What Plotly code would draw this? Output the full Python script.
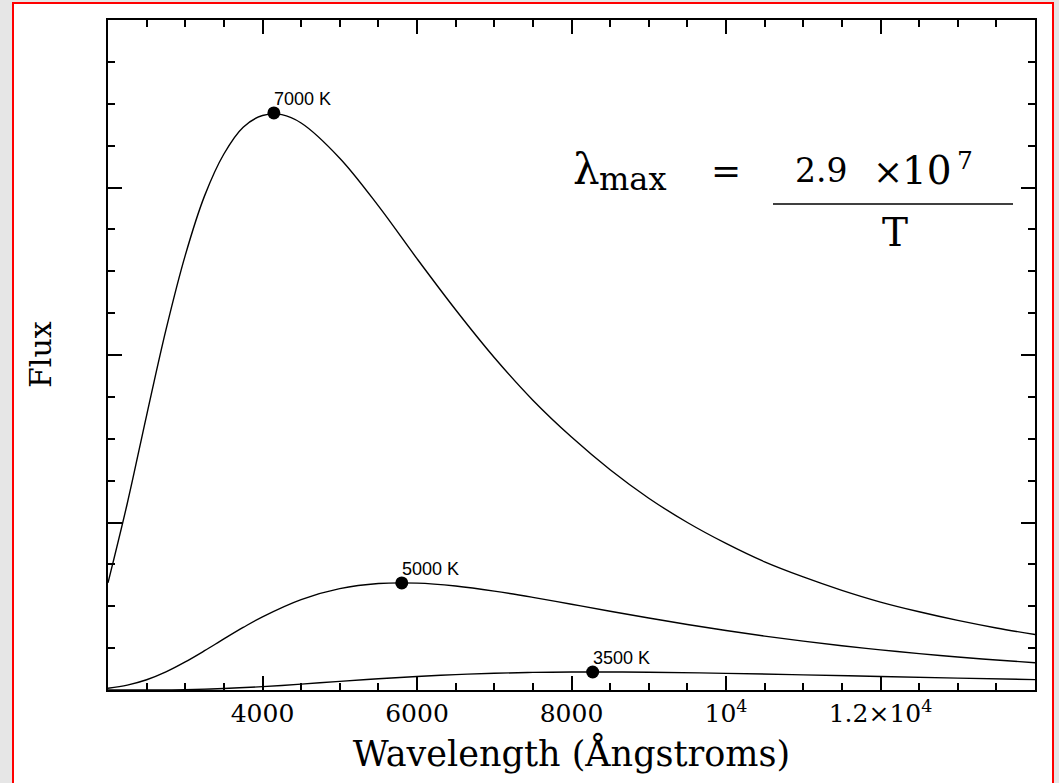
import plotly.graph_objects as go

# ---- data (flux in units of 1e14, arbitrary) ----
wl_7000 = [2000, 2250, 2500, 2750, 3000, 3250, 3500, 3750, 4000, 4250, 4500, 5000, 5500, 6000,
           6500, 7000, 7500, 8000, 8500, 9000, 9500, 10000, 10500, 11000, 11500, 12000, 12500,
           13000, 13500, 14000]
flux_7000 = [1.28, 2.23, 3.28, 4.30, 5.19, 5.90, 6.40, 6.72, 6.86, 6.87, 6.77, 6.35, 5.78, 5.15,
             4.54, 3.97, 3.46, 3.02, 2.63, 2.29, 2.00, 1.75, 1.53, 1.35, 1.19, 1.05, 0.934,
             0.831, 0.741, 0.663]

wl_5000 = [2000, 2250, 2500, 2750, 3000, 3250, 3500, 3750, 4000, 4500, 5000, 5500, 6000, 6500,
           7000, 7500, 8000, 8500, 9000, 9500, 10000, 10500, 11000, 11500, 12000, 12500, 13000,
           13500, 14000]
flux_5000 = [0.021, 0.058, 0.122, 0.216, 0.335, 0.469, 0.610, 0.747, 0.874, 1.080, 1.210, 1.271,
             1.276, 1.241, 1.181, 1.106, 1.024, 0.941, 0.860, 0.782, 0.710, 0.644, 0.583, 0.528,
             0.479, 0.434, 0.394, 0.358, 0.325]

wl_3500 = [2000, 2500, 3000, 3500, 4000, 4500, 5000, 5500, 6000, 6500, 7000, 7500, 8000, 8500,
           9000, 10000, 11000, 12000, 13000, 14000]
flux_3500 = [0.0, 0.001, 0.005, 0.018, 0.040, 0.070, 0.103, 0.134, 0.162, 0.184, 0.200, 0.210,
             0.2145, 0.2147, 0.212, 0.199, 0.181, 0.161, 0.142, 0.124]

peak_wl = [4147, 5803, 8274]
peak_flux = [6.89, 1.278, 0.215]
peak_labels = ["7000 K", "5000 K", "3500 K"]

x_tickvals = [4000, 6000, 8000, 10000, 12000]
x_ticktext = ["4000", "6000", "8000", "10<sup>4</sup>", "1.2×10<sup>4</sup>"]

# ---- layout geometry (pixels) ----
W, H = 1059, 783
L, R, T, B = 108, 24, 20, 93
PW, PH = W - L - R, H - T - B


def px(x):
    return (x - L) / PW


def py(y):
    return (T + PH - y) / PH


SERIF = "DejaVu Serif"
SANS = "Liberation Sans"

fig = go.Figure()
for wl, fl in [(wl_7000, flux_7000), (wl_5000, flux_5000), (wl_3500, flux_3500)]:
    fig.add_trace(go.Scatter(x=wl, y=fl, mode="lines",
                             line=dict(color="black", width=1.4, shape="spline", smoothing=1.0),
                             hoverinfo="skip", showlegend=False))

fig.add_trace(go.Scatter(x=peak_wl, y=peak_flux, mode="markers",
                         marker=dict(color="black", size=13), showlegend=False, hoverinfo="skip"))

annotations = []
for x, y, t in zip(peak_wl, peak_flux, peak_labels):
    annotations.append(dict(x=x, y=y, xref="x", yref="y", text=t, showarrow=False,
                            xanchor="left", yanchor="middle", xshift=-2, yshift=14,
                            font=dict(family=SANS, size=18, color="black")))

formula = [
    ("λ", 571, 169, "left", 42),
    ("max", 597, 179, "left", 32),
    ("=", 726, 170, "center", 36),
    ("2.9", 793, 170, "left", 33),
    ("×", 888, 171, "center", 36),
    ("10", 900, 170, "left", 39),
    ("7", 955, 160, "left", 25),
    ("T", 895, 232, "center", 39),
]
for t, x, y, xa, s in formula:
    annotations.append(dict(x=px(x), y=py(y), xref="paper", yref="paper", text=t, showarrow=False,
                            xanchor=xa, yanchor="middle", font=dict(family=SERIF, size=s, color="black")))

annotations.append(dict(x=px(40), y=py(355), xref="paper", yref="paper", text="Flux", textangle=-90,
                        showarrow=False, xanchor="center", yanchor="middle",
                        font=dict(family=SERIF, size=30, color="black")))

shapes = [
    dict(type="rect", xref="paper", yref="paper", x0=px(13), x1=px(1053), y0=py(800), y1=py(3),
         fillcolor="white", line=dict(color="red", width=2), layer="below"),
    dict(type="line", xref="paper", yref="paper", x0=px(773), x1=px(1013), y0=py(204), y1=py(204),
         line=dict(color="black", width=1.5)),
]

axis_common = dict(showline=True, linecolor="black", linewidth=2, mirror="ticks", ticks="inside",
                   tickcolor="black", tickwidth=1.5, ticklen=14, showgrid=False, zeroline=False)

fig.update_layout(
    width=W, height=H,
    margin=dict(l=L, r=R, t=T, b=B),
    paper_bgcolor="#e6e6e6", plot_bgcolor="white",
    xaxis=dict(range=[2000, 14000], tickmode="array", tickvals=x_tickvals, ticktext=x_ticktext,
               tickfont=dict(family=SERIF, size=25, color="black"),
               minor=dict(ticks="inside", ticklen=7, tickmode="linear", tick0=2000, dtick=500,
                          tickcolor="black", tickwidth=1.5),
               title=dict(text="Wavelength (Ångstroms)", font=dict(family=SERIF, size=35, color="black"),
                          standoff=14),
               **axis_common),
    yaxis=dict(range=[0, 8], tickmode="linear", tick0=0, dtick=2, showticklabels=False,
               minor=dict(ticks="inside", ticklen=7, tickmode="linear", tick0=0, dtick=0.5,
                          tickcolor="black", tickwidth=1.5),
               **axis_common),
    annotations=annotations,
    shapes=shapes,
)

fig.write_html("out.html")
